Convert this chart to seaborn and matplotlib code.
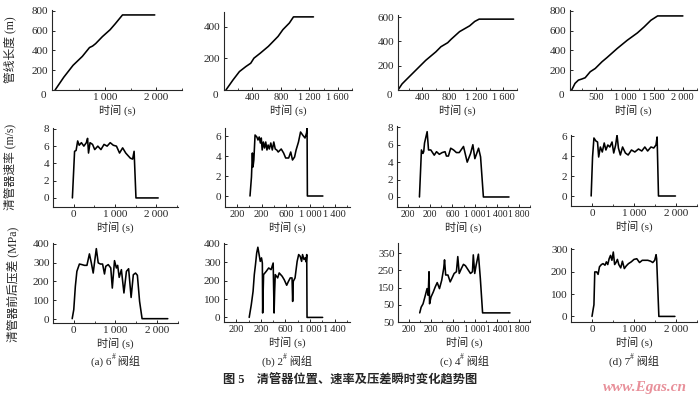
import matplotlib
matplotlib.use("Agg")
import matplotlib.pyplot as plt
import seaborn as sns

# ---- data ----
# row 1: pipeline length (m)
t_len_6 = [30, 200, 380, 560, 700, 760, 820, 950, 1100, 1200, 1342, 1970]
len_6 = [0, 130, 250, 340, 430, 445, 470, 540, 610, 670, 760, 760]
t_len_2 = [27, 127, 217, 308, 376, 421, 511, 624, 760, 828, 919, 977, 1258]
len_2 = [0, 64, 117, 149, 170, 202, 234, 277, 340, 383, 425, 464, 464]
t_len_4 = [40, 100, 150, 300, 450, 600, 675, 775, 825, 950, 1100, 1175, 1240, 1750]
len_4 = [0, 50, 78, 161, 244, 314, 356, 389, 417, 480, 528, 564, 583, 583]
t_len_7 = [76, 134, 193, 251, 310, 398, 485, 602, 690, 865, 1041, 1216, 1333, 1450, 1567, 2005]
len_7 = [0, 67, 100, 111, 124, 185, 218, 286, 329, 420, 504, 578, 639, 706, 750, 750]

# row 2: pig speed (m/s)
t_spd_6 = [-30, 23, 60, 98, 135, 188, 248, 308, 338, 361, 398, 459, 511, 586, 662,
           737, 812, 887, 962, 1038, 1113, 1188, 1263, 1300, 1376, 1430, 1466, 1511, 2050]
spd_6 = [0, 5.4, 5.5, 6.6, 6.1, 6.4, 6.0, 6.4, 6.9, 5.2, 6.4, 6.2, 5.6, 6.0, 5.6,
         6.2, 6.0, 6.4, 6.1, 6.0, 5.2, 5.8, 5.2, 5.0, 4.6, 4.5, 5.4, 0, 0]
t_spd_2 = [10, 34, 49, 59, 73, 93, 122, 141, 161, 180, 195, 210, 229, 249, 268, 288, 307, 327,
           351, 376, 400, 424, 449, 473, 522, 561, 595, 644, 678, 707, 741, 766, 805, 839,
           873, 912, 937, 946, 951, 1205]
spd_2 = [0, 1.9, 4.3, 2.9, 3.6, 6.1, 5.9, 5.6, 5.9, 5.3, 5.8, 4.6, 5.4, 4.8, 5.4, 4.6, 5.1, 4.7,
         5.3, 4.6, 5.4, 4.7, 4.6, 4.4, 4.7, 4.3, 3.8, 3.8, 4.4, 3.6, 3.9, 4.6, 5.4, 6.4,
         6.1, 5.8, 6.3, 6.8, 0, 0]
t_spd_4 = [5, 41, 67, 82, 97, 144, 169, 210, 272, 313, 364, 415, 467, 492, 528, 569, 621, 672,
           723, 800, 867, 928, 969, 1005, 1072, 1108, 1159, 1621]
spd_4 = [0, 5.4, 5.0, 5.2, 6.2, 7.5, 5.4, 5.4, 4.8, 5.2, 4.9, 5.1, 5.2, 4.7, 4.7, 5.6, 5.4, 5.1,
         5.1, 5.8, 4.0, 5.0, 6.0, 4.4, 5.6, 4.6, 0, 0]
t_spd_7 = [-20, 13, 46, 93, 132, 159, 199, 245, 291, 331, 377, 424, 477, 517, 563, 596, 629,
           675, 728, 795, 861, 940, 1020, 1106, 1185, 1258, 1325, 1404, 1470, 1523, 1550, 1583, 1987]
spd_7 = [0, 3.9, 5.8, 5.5, 5.4, 3.9, 4.9, 4.4, 5.3, 4.6, 5.1, 4.9, 5.4, 4.3, 5.1, 6.1, 4.8,
         4.1, 4.9, 4.3, 4.1, 4.6, 4.4, 4.7, 4.5, 4.9, 4.5, 4.9, 4.8, 5.1, 5.9, 0, 0]

# row 3: pressure difference across pig (MPa)
t_dp_6 = [-38, 0, 38, 75, 136, 196, 257, 317, 377, 423, 468, 513, 543, 589, 642, 694, 740, 770,
          830, 891, 928, 981, 1026, 1057, 1094, 1147, 1208, 1268, 1321, 1381, 1434, 1487, 1532,
          1585, 1645, 2264]
dp_6 = [2, 50, 174, 254, 293, 290, 286, 286, 347, 299, 245, 324, 375, 299, 293, 293, 240, 281,
        290, 272, 165, 311, 272, 286, 222, 263, 139, 254, 268, 115, 236, 245, 233,
        94, 2, 2]
t_dp_2 = [10, 44, 73, 93, 112, 132, 151, 171, 190, 210, 224, 229, 244, 288, 327, 366, 400, 415,
          424, 434, 473, 498, 546, 580, 620, 644, 678, 707, 717, 727, 756, 790, 815, 839, 863,
          878, 902, 922, 937, 946, 951, 1205]
dp_2 = [0, 69, 142, 233, 287, 351, 382, 342, 305, 324, 296, 24, 233, 251, 269, 260, 296, 24,
        142, 233, 215, 242, 224, 205, 175, 193, 215, 215, 87, 196, 215, 305, 342, 333, 305,
        342, 315, 324, 302, 342, 0, 0]
t_dp_4 = [-5, 21, 56, 97, 128, 149, 164, 174, 200, 241, 277, 313, 354, 395, 431, 446, 467, 508,
          549, 585, 621, 662, 687, 713, 754, 790, 826, 877, 918, 954, 969, 995, 1021, 1062,
          1097, 1138, 1636]
dp_4 = [3, 36, 56, 105, 144, 105, 242, 56, 95, 124, 154, 179, 144, 193, 262, 311, 223, 223,
        183, 207, 232, 242, 330, 232, 262, 285, 277, 252, 232, 242, 340, 232, 281, 344,
        203, 3, 3]
t_dp_7 = [0, 26, 46, 66, 112, 145, 178, 224, 263, 309, 342, 375, 408, 441, 474, 507, 539, 572,
          605, 638, 684, 724, 770, 816, 868, 934, 1000, 1066, 1132, 1197, 1263, 1329, 1395,
          1447, 1493, 1526, 1539, 1592, 1974]
dp_7 = [0, 30, 52, 199, 199, 188, 222, 232, 236, 229, 244, 232, 258, 273, 251, 288, 232, 241,
        255, 232, 217, 247, 214, 226, 236, 244, 255, 258, 241, 251, 251, 251, 247,
        241, 251, 276, 258, 0, 0]

# ticks
xt_a1, xl_a1 = [1000, 2000], ["1\u2009000", "2\u2009000"]
xt_b1, xl_b1 = [400, 800, 1200, 1600], ["400", "800", "1\u2009200", "1\u2009600"]
xt_d1, xl_d1 = [500, 1000, 1500, 2000], ["500", "1\u2009000", "1\u2009500", "2\u2009000"]
xt_0k, xl_0k = [0, 1000, 2000], ["0", "1\u2009000", "2\u2009000"]
xt_b2, xl_b2 = [-200, 200, 600, 1000, 1400], ["200", "200", "600", "1\u2009000", "1\u2009400"]
xt_c2, xl_c2 = ([-200, 200, 600, 1000, 1400, 1800],
                ["200", "200", "600", "1\u2009000", "1\u2009400", "1\u2009800"])
yt_len8 = [200, 400, 600, 800]
yt_len4 = [200, 400]
yt_len6 = [200, 400, 600]
yt_spd8 = [0, 2, 4, 6, 8]
yt_spd6 = [0, 2, 4, 6]
yt_dp4 = [0, 100, 200, 300, 400]
yt_dp3 = [0, 100, 200, 300]
yt_c3, yl_c3 = [-50, 50, 150, 250, 350], ["50", "50", "150", "250", "350"]

ylabels = ["管线长度 (m)", "清管器速率 (m/s)", "清管器前后压差 (MPa)"]
captions = [("a", "6"), ("b", "2"), ("c", "4"), ("d", "7")]
title = "图 5　清管器位置、速率及压差瞬时变化趋势图"

# ---- layout ----
sns.set_style("ticks")
plt.rcParams["font.family"] = ["Liberation Serif", "Noto Sans CJK SC", "DejaVu Sans"]
plt.rcParams["axes.linewidth"] = 0.8

W, H = 700, 398
fig = plt.figure(figsize=(7, 3.98), dpi=100)


def px_axes(box):
    l, t, r, b = box
    return fig.add_axes([l / W, 1 - b / H, (r - l) / W, (b - t) / H])


# (data, box in px, xlim, ylim, xticks, xlabels, yticks, ylabels, corner zero, x tick size)
panels = [
    [(t_len_6, len_6), (52, 10, 182, 90), (-30, 2480), (0, 810), xt_a1, xl_a1, yt_len8, None, True, 8],
    [(t_len_2, len_2), (224, 12, 352, 90), (0, 1740), (0, 495), xt_b1, xl_b1, yt_len4, None, True, 7.5],
    [(t_len_4, len_4), (398, 15, 517, 90), (40, 1775), (0, 617), xt_b1, xl_b1, yt_len6, None, True, 7.5],
    [(t_len_7, len_7), (570, 10, 697, 90), (47, 2240), (0, 810), xt_d1, xl_d1, yt_len8, None, True, 7.5],
    [(t_spd_6, spd_6), (53, 128, 178, 207), (-290, 2530), (-1.05, 8.1), xt_0k, xl_0k, yt_spd8, None, False, 8],
    [(t_spd_2, spd_2), (225, 128, 350, 207), (-200, 1650), (-1.1, 6.8), xt_b2, xl_b2, yt_spd6, None, False, 7.5],
    [(t_spd_4, spd_4), (397, 126, 530, 207), (-200, 1850), (-1.15, 8.15), xt_c2, xl_c2, yt_spd8, None, False, 7],
    [(t_spd_7, spd_7), (571, 135, 697, 206), (-230, 2330), (-1.0, 6.1), xt_0k, xl_0k, yt_spd6, None, False, 8],
    [(t_dp_6, dp_6), (53, 243, 178, 323), (-310, 2510), (-21, 405), xt_0k, xl_0k, yt_dp4, None, False, 8],
    [(t_dp_2, dp_2), (224, 243, 350, 322), (-200, 1650), (-25, 405), xt_b2, xl_b2, yt_dp4, None, False, 7.5],
    [(t_dp_4, dp_4), (398, 243, 530, 322), (-200, 1850), (-50, 409), xt_c2, xl_c2, yt_c3, yl_c3, False, 7],
    [(t_dp_7, dp_7), (571, 248, 697, 322), (-230, 2316), (-25, 306), xt_0k, xl_0k, yt_dp3, None, False, 8],
]

fs = 8
axes = []
for data, box, xlim, ylim, xt, xl, yt, yl, corner0, xfs in panels:
    ax = px_axes(box)
    sns.lineplot(x=data[0], y=data[1], ax=ax, color="black", lw=1.15,
                 estimator=None, sort=False)
    ax.set_xlim(*xlim)
    ax.set_ylim(*ylim)
    ax.set_xticks(xt)
    ax.set_xticklabels(xl, fontsize=xfs)
    step = xt[1] - xt[0]
    ax.set_xticks([v + step / 2 for v in [xt[0] - step] + xt], minor=True)
    ax.set_yticks(yt)
    if yl is not None:
        ax.set_yticklabels(yl, fontsize=fs)
    else:
        ax.set_yticklabels([str(v) for v in yt], fontsize=fs)
    ax.tick_params(axis="both", which="major", direction="in", length=2.5, width=0.7, pad=2.5)
    ax.tick_params(axis="x", which="minor", direction="in", length=1.8, width=0.6)
    if corner0:
        ax.annotate("0", xy=(0, 0), xycoords="axes fraction", xytext=(-4, -1),
                    textcoords="offset points", ha="right", va="top", fontsize=fs)
    sns.despine(ax=ax)
    ax.set_xlabel("")
    ax.set_ylabel("")
    l, t, r, b = box
    fig.text((l + r) / 2 / W, 1 - (b + 20) / H, "时间 (s)", ha="center", va="center", fontsize=fs)
    axes.append(ax)

# y labels on the first column
for (x, y), lab in zip([(10, 50), (10, 167), (13, 284)], ylabels):
    fig.text(x / W, 1 - y / H, lab, rotation=90, ha="center", va="center", fontsize=8.5)

# captions with superscript #
for ax, (letter, num) in zip(axes[8:], captions):
    l, t, r, b = ax.get_position().bounds
    xc = l + r / 2
    t1 = fig.text(xc - 4 / W, 1 - 365 / H, f"({letter}) {num}", ha="right", va="baseline", fontsize=fs)
    t2 = ax.annotate("#", xy=(1, 0.6), xycoords=t1, ha="left", va="bottom",
                     fontsize=5.5, annotation_clip=False)
    ax.annotate(" 阀组", xy=(1, 0), xycoords=(t2, t1), ha="left", va="bottom",
                fontsize=fs, annotation_clip=False)

fig.text(350 / W, 1 - 380 / H, title, ha="center", va="center", fontsize=8.8, fontweight="bold")
fig.text(645 / W, 1 - 387 / H, "www.Egas.cn", ha="center", va="center", fontsize=11,
         style="italic", fontweight="bold", color="#e8909a")

fig.savefig("out.png", dpi=100)
